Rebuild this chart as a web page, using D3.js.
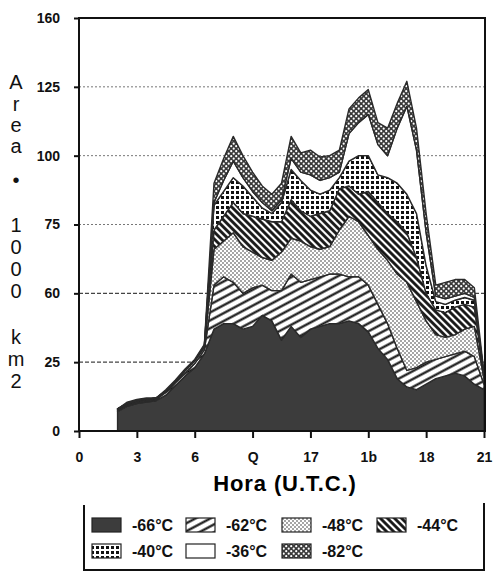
<!DOCTYPE html>
<html>
<head>
<meta charset="utf-8">
<script src="https://cdn.jsdelivr.net/npm/d3@7"></script>
<style>
  body { margin: 0; background: #fff; }
  svg { display: block; font-family: "Liberation Sans", Arial, sans-serif; }
</style>
</head>
<body>
<div class="area-chart"></div>
<script>
// hora (U.T.C.), cada media hora
var horas = [2, 2.5, 3, 3.5, 4, 4.5, 5, 5.5, 6, 6.5, 7, 7.5, 8, 8.5, 9, 9.5, 10, 10.5,
    11, 11.5, 12, 12.5, 13, 13.5, 14, 14.5, 15, 15.5, 16, 16.5, 17, 17.5, 18, 18.5,
    19, 19.5, 20, 20.5, 21];

// area (x1000 km2) de cada umbral
var t66 = [7, 9, 10, 10.5, 11, 13, 16.5, 20, 23, 28, 37, 39, 39, 37, 38, 42, 40, 33,
    38, 34, 37, 38, 39, 39, 40, 39, 36, 30, 26, 19, 16, 15, 17, 19, 20, 21, 20, 17, 15];
var t62 = [0.5, 0.5, 0.5, 0.5, 0.5, 1, 1, 1, 1.5, 1.5, 16, 17, 15, 13, 14, 11, 11, 18,
    19, 20, 18, 18, 18, 18, 16, 17, 17, 16, 13, 11, 6, 8, 8, 7, 7, 7, 9, 10, 2];
var t48 = [0.5, 0.5, 0.5, 0.5, 0.5, 0.5, 0.5, 1, 1, 1, 13, 13, 18, 17, 13, 10, 11, 14,
    13, 15, 12, 10, 10, 16, 22, 20, 18, 20, 23, 27, 32, 24, 15, 9, 7, 7, 8, 11, 2];
var t44 = [0, 0, 0, 0, 0, 0, 0, 0, 0, 0.5, 7, 9, 11, 12, 13, 14, 14, 11,
    14, 11, 11, 13, 13, 15, 11, 10, 16, 17, 17, 19, 18, 16, 10, 9, 9, 10, 9, 7, 1];
var t40 = [0, 0, 0, 0, 0, 0, 0, 0, 0, 0, 9, 9, 9, 10, 7, 4, 3, 7,
    11, 11, 9.5, 7, 7.5, 4, 9, 14, 13, 10, 13, 14, 14, 16, 10, 3, 3, 2.5, 2.5, 2.5, 0.5];
var t36 = [0, 0, 0, 0, 0, 0, 0, 0, 0, 0, 1, 4, 6, 3, 2, 2, 1, 1,
    4, 3, 5.5, 5, 4.5, 2, 10, 12, 15, 11, 8, 20, 32, 23, 12, 2, 2, 1.5, 1.5, 1, 0];
var t32 = [0, 0.5, 0.5, 0.5, 0, 0.5, 0.5, 0.5, 0.5, 0.5, 7, 8, 9, 8, 7, 6, 6, 6,
    8, 7, 9, 8.5, 8, 8, 9, 9, 9, 8, 10, 9, 9, 8, 7, 4, 6, 6, 5, 3.5, 0.5];

var claves = ["t66", "t62", "t48", "t44", "t40", "t36", "t32"];
var etiquetas = ["-66°C", "-62°C", "-48°C", "-44°C", "-40°C", "-36°C", "-82°C"];
var series = [t66, t62, t48, t44, t40, t36, t32];

var yTicks = [0, 25, 50, 75, 100, 125, 150];
var yEtiquetas = ["0", "25", "60", "75", "100", "125", "160"];
var xTicks = [0, 3, 6, 9, 12, 15, 18, 21];
var xEtiquetas = ["0", "3", "6", "Q", "17", "1b", "18", "21"];

var datos = horas.map(function(h, i) {
    var fila = { hora: h };
    claves.forEach(function(k, j) { fila[k] = series[j][i]; });
    return fila;
});

var svg = d3.select('.area-chart')
    .append('svg')
    .attr("width", 496)
    .attr("height", 571);

var xRange = d3.scaleLinear().domain([0, 21]).range([79, 484]);
var yRange = d3.scaleLinear().domain([0, 150]).range([431, 18]);

// tramas
var defs = svg.append("defs");

function hatch(id, angle, h, sw) {
    var p = defs.append("pattern").attr("id", id)
        .attr("patternUnits", "userSpaceOnUse")
        .attr("width", 10).attr("height", h)
        .attr("patternTransform", "rotate(" + angle + ")");
    p.append("rect").attr("width", 10).attr("height", h).attr("fill", "#fff");
    p.append("line").attr("x1", 0).attr("x2", 10).attr("y1", h / 2).attr("y2", h / 2)
        .attr("stroke", "#111").attr("stroke-width", sw);
}
hatch("p62", -28, 7, 2.2);
hatch("p44", 45, 5, 2.8);

var p48 = defs.append("pattern").attr("id", "p48")
    .attr("patternUnits", "userSpaceOnUse").attr("width", 4).attr("height", 4);
p48.append("rect").attr("width", 4).attr("height", 4).attr("fill", "#fff");
p48.append("circle").attr("cx", 1).attr("cy", 1).attr("r", 0.75).attr("fill", "#222");
p48.append("circle").attr("cx", 3).attr("cy", 3).attr("r", 0.75).attr("fill", "#222");

var p40 = defs.append("pattern").attr("id", "p40")
    .attr("patternUnits", "userSpaceOnUse").attr("width", 5).attr("height", 5);
p40.append("rect").attr("width", 5).attr("height", 5).attr("fill", "#fff");
p40.append("rect").attr("x", 1).attr("y", 1).attr("width", 3).attr("height", 3).attr("fill", "#111");

var p32 = defs.append("pattern").attr("id", "p32")
    .attr("patternUnits", "userSpaceOnUse").attr("width", 5).attr("height", 5);
p32.append("rect").attr("width", 5).attr("height", 5).attr("fill", "#3a3a3a");
p32.append("circle").attr("cx", 1.2).attr("cy", 1.2).attr("r", 1.1).attr("fill", "#fff");
p32.append("circle").attr("cx", 3.7).attr("cy", 3.7).attr("r", 1.1).attr("fill", "#fff");

var rellenos = {
    t66: "#3c3c3c", t62: "url(#p62)", t48: "url(#p48)", t44: "url(#p44)",
    t40: "url(#p40)", t36: "#ffffff", t32: "url(#p32)"
};

// rejilla
svg.selectAll(".grid")
    .data([25, 50, 75, 100, 125])
    .enter()
    .append("line")
    .attr("class", "grid")
    .attr("x1", 79).attr("x2", 484)
    .attr("y1", function(d) { return yRange(d); })
    .attr("y2", function(d) { return yRange(d); })
    .attr("stroke", function(d) { return d <= 50 ? "#444" : "#777"; })
    .attr("stroke-width", function(d) { return d <= 50 ? 1.3 : 1; })
    .attr("stroke-dasharray", function(d) { return d <= 50 ? "4,2" : "2,2"; });

var stack = d3.stack().keys(claves);
var capas = stack(datos);

var area = d3.area()
    .x(function(d) { return xRange(d.data.hora); })
    .y0(function(d) { return yRange(d[0]); })
    .y1(function(d) { return yRange(d[1]); });

svg.selectAll(".capa")
    .data(capas)
    .enter()
    .append("path")
    .attr("class", "capa")
    .attr("d", area)
    .attr("fill", function(d) { return rellenos[d.key]; })
    .attr("stroke", "#2a2a2a")
    .attr("stroke-width", 1.4)
    .attr("stroke-linejoin", "round");

// ejes
var yAxis = d3.axisLeft(yRange)
    .tickValues(yTicks)
    .tickSize(5)
    .tickFormat(function(d, i) { return yEtiquetas[i]; });

var xAxis = d3.axisBottom(xRange)
    .tickValues(xTicks)
    .tickSize(7)
    .tickFormat(function(d, i) { return xEtiquetas[i]; });

var gy = svg.append("g").attr("transform", "translate(79,0)").call(yAxis);
var gx = svg.append("g").attr("transform", "translate(0,431)").call(xAxis);

[gy, gx].forEach(function(g) {
    g.select(".domain").remove();
    g.selectAll(".tick line").attr("stroke", "#111").attr("stroke-width", 2);
    g.selectAll(".tick text")
        .attr("fill", "#111")
        .style("font-size", "14px")
        .style("font-weight", "bold");
});
gy.selectAll(".tick text").attr("x", -19);
gx.selectAll(".tick text").attr("y", 21);

// marco
svg.append("path")
    .attr("d", "M79,431V18H485V431H79")
    .attr("fill", "none")
    .attr("stroke", "#111")
    .attr("stroke-width", 2);

// titulos
svg.append("text")
    .attr("x", 285).attr("y", 491)
    .attr("text-anchor", "middle")
    .style("font-size", "22px")
    .style("font-weight", "bold")
    .style("letter-spacing", "0.9px")
    .text("Hora (U.T.C.)");

var letras = ["A", "r", "e", "a", "•", "1", "0", "0", "0", "k", "m", "2"];
var letrasY = [82, 104, 125, 146, 180, 225, 247, 269, 291, 337, 359, 381];
svg.append("text")
    .attr("class", "ytitulo")
    .attr("text-anchor", "middle")
    .attr("fill", "#111")
    .style("font-size", "20px")
    .selectAll("tspan")
    .data(letras)
    .enter()
    .append("tspan")
    .attr("x", 16)
    .attr("y", function(d, i) { return letrasY[i] + 7; })
    .text(function(d) { return d; });

// leyenda
svg.append("path")
    .attr("d", "M84,505V570H484V503")
    .attr("fill", "none")
    .attr("stroke", "#111")
    .attr("stroke-width", 2);

var legX = [92, 186, 282, 377, 92, 186, 282];
var legY = [525, 525, 525, 525, 551, 551, 551];

var leg = svg.selectAll(".leg")
    .data(claves)
    .enter()
    .append("g")
    .attr("class", "leg");

leg.append("rect")
    .attr("x", function(d, i) { return legX[i]; })
    .attr("y", function(d, i) { return legY[i] - 7; })
    .attr("width", 29).attr("height", 14)
    .attr("fill", function(d) { return rellenos[d]; })
    .attr("stroke", "#222")
    .attr("stroke-width", 1.2);

leg.append("text")
    .attr("x", function(d, i) { return legX[i] + 40; })
    .attr("y", function(d, i) { return legY[i] + 6; })
    .style("font-size", "16px")
    .style("font-weight", "bold")
    .attr("fill", "#111")
    .text(function(d, i) { return etiquetas[i]; });
</script>
</body>
</html>
